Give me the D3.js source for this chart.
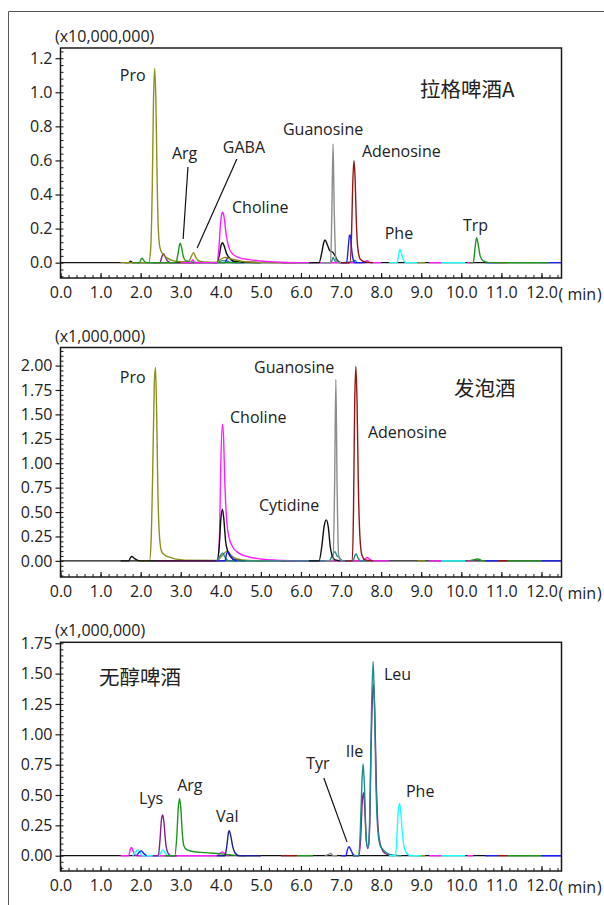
<!DOCTYPE html>
<html>
<head>
<meta charset="utf-8">
<script src="https://cdn.jsdelivr.net/npm/d3@7"></script>
<style>
  body { margin: 0; background: #fff; }
  text { font-family: "Open Sans", "Noto Sans CJK SC", sans-serif; fill: #222; }
  .cjk { font-family: "Noto Sans CJK SC", sans-serif; }
</style>
</head>
<body>
<div id="chart"></div>
<script>
// ---- trace data: [time (min), intensity] ----

// 拉格啤酒A  (x10,000,000)
var lagerOlive = [[1.5,0],[2.2,0],[2.25,0.08],[2.29,0.45],[2.32,0.95],[2.35,1.14],[2.38,0.95],[2.41,0.5],[2.44,0.2],[2.48,0.09],[2.55,0.05],[2.65,0.03],[2.8,0.012],[3.0,0.005],[3.2,0.008],[3.26,0.035],[3.32,0.058],[3.38,0.03],[3.45,0.01],[3.6,0.003],[3.9,0.002],[4.0,0.02],[4.1,0.03],[4.3,0.02],[4.6,0.005],[5.5,0]];
var lagerGreen = [[1.8,0],[1.97,0],[2.01,0.02],[2.04,0.026],[2.08,0.012],[2.15,0],[2.88,0],[2.93,0.05],[2.97,0.105],[2.99,0.114],[3.02,0.09],[3.06,0.04],[3.12,0.012],[3.25,0.003],[4.5,0]];
var lagerPurple = [[2.3,0],[2.48,0],[2.53,0.035],[2.57,0.053],[2.61,0.035],[2.67,0.01],[2.75,0],[3.5,0]];
var lagerMagenta = [[3.0,0],[3.25,0],[3.3,0.018],[3.35,0],[3.9,0],[3.95,0.08],[3.99,0.22],[4.03,0.29],[4.05,0.296],[4.08,0.27],[4.13,0.17],[4.2,0.09],[4.3,0.05],[4.45,0.03],[4.7,0.018],[5.0,0.01],[5.4,0.004],[5.8,0],[7.5,0],[7.6,0.008],[7.65,0.012],[7.72,0],[8.0,0]];
var lagerBlack = [[1.6,0],[1.7,0],[1.75,0.008],[1.8,0],[3.9,0],[3.96,0.04],[4.01,0.105],[4.04,0.117],[4.08,0.1],[4.15,0.05],[4.25,0.02],[4.4,0.005],[5.0,0]];
var lagerBlack2 = [[6.2,0],[6.45,0],[6.52,0.06],[6.57,0.12],[6.6,0.133],[6.65,0.11],[6.72,0.07],[6.8,0.06],[6.85,0.04],[6.92,0.01],[7.0,0],[7.2,0]];
var lagerBlue = [[3.8,0],[4.1,0],[4.16,0.025],[4.2,0.03],[4.26,0.015],[4.35,0],[4.6,0]];
var lagerBlue2 = [[7.0,0],[7.14,0],[7.18,0.09],[7.21,0.16],[7.23,0.163],[7.26,0.09],[7.3,0.02],[7.35,0],[7.6,0]];
var lagerGray = [[6.5,0],[6.74,0],[6.77,0.3],[6.8,0.697],[6.83,0.3],[6.87,0.02],[6.95,0],[7.1,0]];
var lagerRed = [[7.0,0],[7.22,0],[7.26,0.15],[7.29,0.45],[7.32,0.599],[7.35,0.5],[7.38,0.25],[7.42,0.08],[7.48,0.02],[7.6,0.005],[7.8,0]];
var lagerTeal = [[3.9,0],[4.05,0.012],[4.15,0.01],[4.3,0],[6.6,0],[6.75,0],[6.8,0.03],[6.85,0.01],[6.95,0],[7.3,0.005],[7.35,0.015],[7.4,0],[7.5,0]];
var lagerCyan = [[8.2,0],[8.4,0],[8.44,0.05],[8.47,0.079],[8.5,0.06],[8.55,0.02],[8.62,0],[8.9,0]];
var lagerGreen2 = [[10.2,0],[10.3,0],[10.34,0.08],[10.38,0.147],[10.42,0.11],[10.47,0.04],[10.55,0.01],[10.7,0],[12.2,0]];

// 发泡酒  (x1,000,000)
var happoBlack = [[1.5,0],[1.7,0],[1.75,0.035],[1.78,0.045],[1.83,0.03],[1.9,0.01],[2.0,0],[3.9,0],[3.96,0.15],[4.0,0.42],[4.04,0.53],[4.07,0.45],[4.12,0.2],[4.18,0.09],[4.25,0.04],[4.35,0.01],[4.6,0]];
var happoBlack2 = [[6.2,0],[6.45,0],[6.52,0.15],[6.58,0.36],[6.63,0.42],[6.68,0.35],[6.73,0.15],[6.78,0.05],[6.85,0.01],[7.0,0]];
var happoOlive = [[1.9,0],[2.22,0],[2.26,0.2],[2.3,0.9],[2.34,1.8],[2.37,1.98],[2.4,1.5],[2.43,0.7],[2.47,0.25],[2.52,0.1],[2.6,0.06],[2.7,0.04],[2.85,0.02],[3.1,0.008],[3.9,0.005],[4.05,0.06],[4.15,0.1],[4.25,0.06],[4.4,0.02],[4.7,0.005],[5.3,0]];
var happoMagenta = [[2.4,0],[3.8,0],[3.93,0],[3.97,0.3],[4.0,1.0],[4.04,1.4],[4.07,1.25],[4.1,0.8],[4.14,0.45],[4.2,0.25],[4.3,0.14],[4.45,0.08],[4.7,0.04],[5.0,0.02],[5.5,0.005],[6.0,0],[7.5,0],[7.6,0.02],[7.65,0.035],[7.7,0.02],[7.8,0],[8.2,0]];
var happoTeal = [[3.9,0],[4.0,0.06],[4.05,0.08],[4.1,0.04],[4.2,0],[6.7,0],[6.8,0.07],[6.85,0.095],[6.9,0.05],[6.95,0.04],[7.0,0.01],[7.1,0],[7.3,0],[7.35,0.06],[7.38,0.07],[7.42,0.03],[7.5,0],[7.7,0]];
var happoBlue = [[3.9,0],[4.1,0],[4.15,0.08],[4.18,0.095],[4.23,0.06],[4.3,0.02],[4.4,0]];
var happoGray = [[6.6,0],[6.8,0],[6.84,0.8],[6.87,1.86],[6.9,0.8],[6.94,0.05],[7.0,0]];
var happoRed = [[7.1,0],[7.28,0],[7.31,0.5],[7.34,1.6],[7.37,1.99],[7.4,1.6],[7.43,0.8],[7.47,0.25],[7.52,0.06],[7.6,0.01],[7.8,0]];
var happoGreen = [[10.2,0],[10.35,0.015],[10.42,0.02],[10.5,0.005],[10.6,0]];

// 无醇啤酒  (x1,000,000)
var naMagenta = [[1.5,0],[1.7,0],[1.74,0.05],[1.77,0.069],[1.81,0.04],[1.87,0.005],[1.95,0],[3.9,0],[4.0,0.025],[4.05,0.03],[4.12,0.01],[4.2,0]];
var naCyan = [[1.8,0],[1.88,0.03],[1.93,0.05],[1.98,0.03],[2.05,0],[2.45,0],[2.52,0.035],[2.56,0.047],[2.61,0.02],[2.7,0]];
var naCyan2 = [[8.2,0],[8.36,0],[8.4,0.2],[8.43,0.38],[8.46,0.43],[8.49,0.36],[8.53,0.18],[8.58,0.06],[8.65,0.015],[8.75,0],[9.0,0]];
var naBlue = [[1.9,0],[1.97,0.03],[2.02,0.04],[2.07,0.02],[2.15,0]];
var naBlue2 = [[7.0,0],[7.12,0],[7.16,0.05],[7.2,0.074],[7.24,0.05],[7.3,0.01],[7.35,0]];
var naPurple = [[2.3,0],[2.44,0],[2.48,0.12],[2.52,0.3],[2.55,0.335],[2.58,0.28],[2.62,0.12],[2.67,0.03],[2.75,0],[2.9,0]];
var naPurple2 = [[7.3,0],[7.44,0],[7.49,0.15],[7.53,0.45],[7.56,0.52],[7.59,0.4],[7.63,0.12],[7.67,0.06],[7.71,0.2],[7.75,0.9],[7.79,1.35],[7.81,1.41],[7.84,1.2],[7.88,0.6],[7.93,0.2],[8.0,0.07],[8.1,0.02],[8.3,0]];
var naTeal = [[7.3,0],[7.44,0],[7.48,0.2],[7.52,0.6],[7.55,0.755],[7.58,0.6],[7.62,0.2],[7.66,0.07],[7.69,0.09],[7.72,0.4],[7.76,1.2],[7.8,1.6],[7.83,1.3],[7.87,0.6],[7.92,0.2],[7.98,0.08],[8.05,0.05],[8.15,0.02],[8.3,0.005],[8.5,0]];
var naGreen = [[2.6,0],[2.85,0],[2.9,0.15],[2.94,0.4],[2.97,0.47],[3.0,0.4],[3.04,0.18],[3.08,0.08],[3.15,0.05],[3.3,0.035],[3.6,0.025],[4.0,0.015],[4.3,0.005],[4.6,0]];
var naNavy = [[3.9,0],[4.1,0],[4.15,0.08],[4.19,0.19],[4.21,0.206],[4.25,0.16],[4.3,0.07],[4.36,0.02],[4.45,0],[5.0,0]];
var naGray = [[6.6,0],[6.72,0.015],[6.75,0.02],[6.8,0],[6.9,0]];

// baseline pieces of the other transitions: [colour key, from, to]
var baseSegs = [["red",5.5,5.9],["green",5.9,6.3],["olive",8.9,9.1],["magenta",9.2,9.5],["cyan",9.5,10.1],["magenta",10.15,10.3],["blue",10.6,10.9],["red",10.9,11.15],["green",11.15,12.0],["blue",12.0,12.5]];

var xTicks = d3.range(0, 13, 1);
var lagerTicks = [0, 0.2, 0.4, 0.6, 0.8, 1.0, 1.2];
var happoTicks = [0, 0.25, 0.5, 0.75, 1.0, 1.25, 1.5, 1.75, 2.0];
var naTicks = [0, 0.25, 0.5, 0.75, 1.0, 1.25, 1.5, 1.75];

// peak labels: [text, time, intensity]  (placed in data units)
var lagerLabels = [["Pro",1.48,1.067],["Arg",2.78,0.609],["GABA",4.05,0.644],["Choline",4.28,0.292],["Guanosine",5.55,0.75],["Adenosine",7.52,0.621],["Phe",8.09,0.139],["Trp",10.04,0.183]];
var happoLabels = [["Pro",1.48,1.823],["Choline",4.23,1.413],["Guanosine",4.83,1.925],["Adenosine",7.67,1.26],["Cytidine",4.95,0.512]];
var naLabels = [["Lys",1.96,0.426],["Arg",2.91,0.533],["Val",3.88,0.277],["Tyr",6.13,0.714],["Ile",7.12,0.813],["Leu",8.07,1.448],["Phe",8.62,0.484]];
// leader lines: [t1, v1, t2, v2]
var lagerLeaders = [[3.18,0.562,3.06,0.139],[4.40,0.609,3.41,0.086]];
var naLeaders = [[6.57,0.64,7.15,0.112]];

var colors = {
  olive: "#8f8f1e", green: "#1e961e", purple: "#861e86", magenta: "#ff1eff",
  black: "#111", blue: "#1e1eff", gray: "#8c8c8c", red: "#961414",
  teal: "#1e8c8c", cyan: "#1effff", navy: "#1e1e96"
};

var panels = [
  { top: 48, bottom: 278, domain: [-0.09, 1.26], ticks: lagerTicks, fmt: ".1f",
    minor: 0.04, unit: "(x10,000,000)", title: "拉格啤酒A", titlePos: [8.97, 0.973],
    labels: lagerLabels, leaders: lagerLeaders,
    traces: [["teal",lagerTeal],["purple",lagerPurple],["blue",lagerBlue],["black",lagerBlack],["olive",lagerOlive],
             ["green",lagerGreen],["magenta",lagerMagenta],["black",lagerBlack2],["gray",lagerGray],["blue",lagerBlue2],
             ["red",lagerRed],["cyan",lagerCyan],["green",lagerGreen2]] },
  { top: 347.5, bottom: 577, domain: [-0.165, 2.185], ticks: happoTicks, fmt: ".2f",
    minor: 0.05, unit: "(x1,000,000)", title: "发泡酒", titlePos: [9.82, 1.69],
    labels: happoLabels, leaders: [],
    traces: [["olive",happoOlive],["magenta",happoMagenta],["black",happoBlack],["teal",happoTeal],["blue",happoBlue],
             ["black",happoBlack2],["gray",happoGray],["red",happoRed],["green",happoGreen]] },
  { top: 642.3, bottom: 871, domain: [-0.126, 1.758], ticks: naTicks, fmt: ".2f",
    minor: 0.05, unit: "(x1,000,000)", title: "无醇啤酒", titlePos: [0.96, 1.407],
    labels: naLabels, leaders: naLeaders,
    traces: [["gray",naGray],["magenta",naMagenta],["cyan",naCyan],["blue",naBlue],["purple",naPurple],["green",naGreen],
             ["navy",naNavy],["blue",naBlue2],["purple",naPurple2],["teal",naTeal],["cyan",naCyan2]] }
];

var W = 604, H = 905;
var svg = d3.select("#chart").append("svg").attr("width", W).attr("height", H);

// outer frame (left and top edges only visible)
svg.append("path").attr("d", "M" + W + ",11.5H8.5V" + H)
  .attr("fill", "none").attr("stroke", "#555").attr("stroke-width", 1);

var x = d3.scaleLinear().domain([0, 12.5]).range([60.5, 561.5]);

panels.forEach(function(p) {
  var y = d3.scaleLinear().domain(p.domain).range([p.bottom, p.top]);
  var g = svg.append("g");

  var clipId = "clip" + Math.round(p.top);
  g.append("clipPath").attr("id", clipId).append("rect")
    .attr("x", x.range()[0]).attr("y", p.top)
    .attr("width", x.range()[1] - x.range()[0]).attr("height", p.bottom - p.top);

  var plot = g.append("g").attr("clip-path", "url(#" + clipId + ")");

  // zero line
  plot.append("line")
    .attr("x1", x(0)).attr("x2", x(12.5)).attr("y1", y(0)).attr("y2", y(0))
    .attr("stroke", "#111").attr("stroke-width", 1.2);

  baseSegs.forEach(function(s) {
    plot.append("line")
      .attr("x1", x(s[1])).attr("x2", x(s[2])).attr("y1", y(0)).attr("y2", y(0))
      .attr("stroke", colors[s[0]]).attr("stroke-width", 1.4);
  });

  var line = d3.line()
    .x(function(d) { return x(d[0]); })
    .y(function(d) { return y(d[1]); })
    .curve(d3.curveMonotoneX);

  p.traces.forEach(function(t) {
    plot.append("path").datum(t[1])
      .attr("d", line)
      .attr("fill", "none")
      .attr("stroke", colors[t[0]])
      .attr("stroke-width", 1.4)
      .attr("stroke-linejoin", "round");
  });

  // frame
  g.append("rect")
    .attr("x", x.range()[0]).attr("y", p.top)
    .attr("width", x.range()[1] - x.range()[0]).attr("height", p.bottom - p.top)
    .attr("fill", "none").attr("stroke", "#1a1a1a").attr("stroke-width", 1.5);

  // y axis
  var yAxis = g.append("g").attr("transform", "translate(" + x.range()[0] + ",0)")
    .call(d3.axisLeft(y).tickValues(p.ticks).tickFormat(d3.format(p.fmt)).tickSize(5).tickPadding(3));
  yAxis.select(".domain").remove();
  yAxis.selectAll("text").style("font-size", "16px").attr("fill", "#222");
  yAxis.selectAll("line").attr("stroke", "#1a1a1a").attr("stroke-width", 1.2);

  var minorY = d3.range(Math.ceil(p.domain[0] / p.minor) * p.minor, p.domain[1], p.minor);
  var yMinor = g.append("g").attr("transform", "translate(" + x.range()[0] + ",0)")
    .call(d3.axisLeft(y).tickValues(minorY).tickFormat("").tickSize(-3));
  yMinor.select(".domain").remove();
  yMinor.selectAll("line").attr("stroke", "#1a1a1a");

  // x axis
  var xAxis = g.append("g").attr("transform", "translate(0," + p.bottom + ")")
    .call(d3.axisBottom(x).tickValues(xTicks).tickFormat(d3.format(".1f")).tickSize(-5).tickPadding(9));
  xAxis.select(".domain").remove();
  xAxis.selectAll("text").style("font-size", "16px").attr("fill", "#222");
  xAxis.selectAll("line").attr("stroke", "#1a1a1a").attr("stroke-width", 1.2);

  var xMinor = g.append("g").attr("transform", "translate(0," + p.bottom + ")")
    .call(d3.axisBottom(x).tickValues(d3.range(0, 12.51, 0.2)).tickFormat("").tickSize(-3));
  xMinor.select(".domain").remove();
  xMinor.selectAll("line").attr("stroke", "#1a1a1a");

  // unit of the time axis, with wide brackets as in the original
  var mt = g.append("text").attr("y", p.bottom + 21.5).style("font-size", "16px");
  mt.append("tspan").attr("x", 558.5).text("(");
  mt.append("tspan").attr("x", 567.5).text("min");
  mt.append("tspan").attr("x", 597).text(")");

  // unit label
  g.append("text").attr("x", 55).attr("y", p.top - 6)
    .style("font-size", "16px").text(p.unit);

  // sample name
  g.append("text").attr("class", "cjk")
    .attr("x", x(p.titlePos[0])).attr("y", y(p.titlePos[1]))
    .style("font-size", "20.5px").text(p.title);

  p.labels.forEach(function(l) {
    g.append("text").attr("x", x(l[1])).attr("y", y(l[2]))
      .style("font-size", "16px").text(l[0]);
  });

  p.leaders.forEach(function(l) {
    g.append("line")
      .attr("x1", x(l[0])).attr("y1", y(l[1])).attr("x2", x(l[2])).attr("y2", y(l[3]))
      .attr("stroke", "#111").attr("stroke-width", 1.2);
  });
});
</script>
</body>
</html>
